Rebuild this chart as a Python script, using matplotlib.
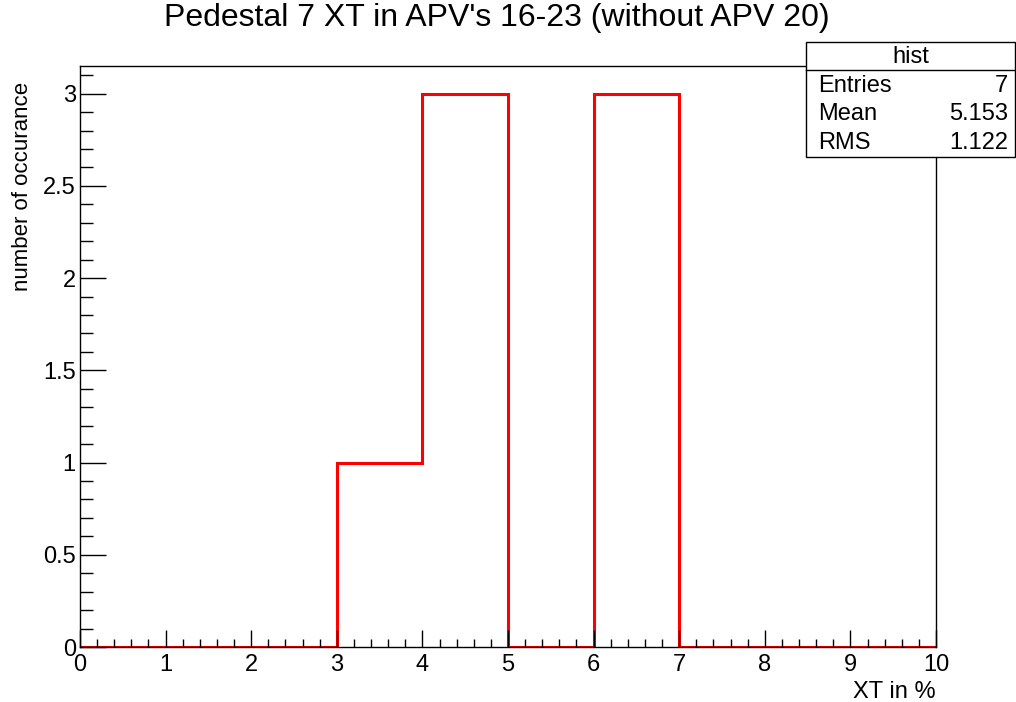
import numpy as np
import matplotlib
matplotlib.use("Agg")
import matplotlib.pyplot as plt
from matplotlib.patches import Rectangle
from matplotlib.ticker import MultipleLocator

plt.rcParams['font.family'] = ['Liberation Sans', 'DejaVu Sans']

# histogram contents
bin_edges = [0, 1, 2, 3, 4, 5, 6, 7, 8, 9, 10]
counts = [0, 0, 0, 1, 3, 0, 3, 0, 0, 0]
stats_names = ["Entries", "Mean", "RMS"]
stats_values = ["7", "5.153", "1.122"]

W, H = 1016, 702
fig = plt.figure(figsize=(W / 100, H / 100), dpi=100)
# frame in pixels: left 80, right 936, top 66, bottom 647
ax = fig.add_axes([80 / W, 1 - 647 / H, (936 - 80) / W, (647 - 66) / H])

ax.stairs(counts, bin_edges, color='red', linewidth=2.2, baseline=0)
ax.set_xlim(0, 10)
ax.set_ylim(0, 3.15)

ax.xaxis.set_major_locator(MultipleLocator(1))
ax.xaxis.set_minor_locator(MultipleLocator(0.2))
ax.yaxis.set_major_locator(MultipleLocator(0.5))
ax.yaxis.set_minor_locator(MultipleLocator(0.1))
ax.yaxis.set_major_formatter(plt.FuncFormatter(lambda v, p: f"{v:g}"))

ax.tick_params(axis='both', which='both', direction='in', top=False, right=False,
               labelsize=17, color='black', width=1)
ax.tick_params(axis='x', which='major', length=12, pad=5)
ax.tick_params(axis='x', which='minor', length=6)
ax.tick_params(axis='y', which='major', length=19, pad=3)
ax.tick_params(axis='y', which='minor', length=9)
for s in ax.spines.values():
    s.set_linewidth(1)

ax.set_xlabel("XT in %", fontsize=17, loc='right')
ax.xaxis.set_label_coords(1.0, -0.058)
ax.set_ylabel("number of occurance", fontsize=16, loc='top')
ax.yaxis.set_label_coords(-0.055, (647 - 82) / 581)

fig.text(497 / W, 1 - 18 / H, "Pedestal 7 XT in APV's 16-23 (without APV 20)",
         ha='center', va='center', fontsize=23)

# stats box
bx0, bx1, by0, by1 = 806, 1015, 42, 157
fig.patches.append(Rectangle((bx0 / W, 1 - by1 / H), (bx1 - bx0) / W, (by1 - by0) / H,
                             transform=fig.transFigure, facecolor='white',
                             edgecolor='black', linewidth=1, zorder=5))
fig.add_artist(plt.Line2D([bx0 / W, bx1 / W], [1 - 70 / H, 1 - 70 / H],
                          transform=fig.transFigure, color='black', linewidth=1, zorder=6))
fig.text((bx0 + bx1) / 2 / W, 1 - 57 / H, "hist", ha='center', va='center',
         fontsize=17, zorder=7)
for i, (n, v) in enumerate(zip(stats_names, stats_values)):
    y = 1 - (86 + i * 28.5) / H
    fig.text(818 / W, y, n, ha='left', va='center', fontsize=17, zorder=7)
    fig.text(1008 / W, y, v, ha='right', va='center', fontsize=17, zorder=7)

fig.savefig("out.png", dpi=100)
